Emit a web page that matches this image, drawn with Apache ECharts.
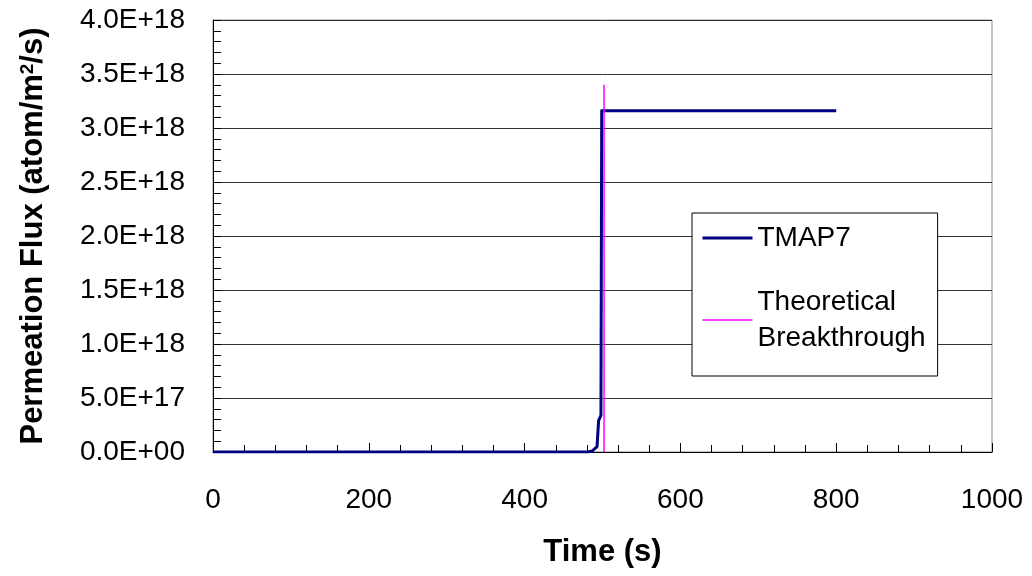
<!DOCTYPE html>
<html>
<head>
<meta charset="utf-8">
<title>Permeation Flux</title>
<script src="https://cdn.jsdelivr.net/npm/echarts@6/dist/echarts.min.js"></script>
<style>
  html, body { margin: 0; padding: 0; background: #ffffff; }
  #chart { width: 1032px; height: 576px; }
</style>
</head>
<body>
<div id="chart"></div>
<script>
// TMAP7 permeation flux history (time in s, flux in atom/m^2/s)
const timeS = [0, 481, 487, 493, 495, 498, 499, 800];
const fluxTMAP7 = [0, 0, 0.01e18, 0.05e18, 0.29e18, 0.34e18, 3.16e18, 3.16e18];

// Theoretical breakthrough marker
const breakthroughTime = [502, 502];
const breakthroughFlux = [0, 3.4e18];

// Axis tick labels
const xTickLabels = ['0', '200', '400', '600', '800', '1000'];
const yTickLabels = ['0.0E+00', '5.0E+17', '1.0E+18', '1.5E+18', '2.0E+18',
                     '2.5E+18', '3.0E+18', '3.5E+18', '4.0E+18'];

const seriesNames = ['TMAP7', 'Theoretical Breakthrough'];

const FONT = "'Liberation Sans', Arial, sans-serif";

const pairs = (xs, ys) => xs.map((x, i) => [x, ys[i]]);

const chart = echarts.init(document.getElementById('chart'), null, { renderer: 'canvas' });

chart.setOption({
  backgroundColor: '#ffffff',
  animation: false,
  textStyle: { fontFamily: FONT, color: '#000' },
  grid: {
    left: 213, right: 40, top: 20, bottom: 124,
    show: true, borderColor: '#8c8c8c', borderWidth: 1, backgroundColor: '#ffffff'
  },
  legend: {
    orient: 'vertical',
    left: 692, top: 213,
    padding: [8, 12, 2, 9],
    itemGap: 11,
    itemWidth: 50, itemHeight: 1,
    backgroundColor: '#ffffff',
    borderColor: '#000000', borderWidth: 1, borderRadius: 0,
    itemStyle: { borderWidth: 0 },
    textStyle: { fontFamily: FONT, fontSize: 28, color: '#000', lineHeight: 34 },
    formatter: name => name === seriesNames[1] ? 'Theoretical\nBreakthrough' : name,
    data: [
      { name: seriesNames[0], lineStyle: { width: 3 } },
      { name: seriesNames[1], lineStyle: { width: 1.5 },
        textStyle: { lineHeight: 36, padding: [36, 0, 0, 0] } }
    ]
  },
  xAxis: {
    type: 'value', min: 0, max: 1000, interval: 200,
    name: 'Time (s)', nameLocation: 'middle', nameGap: 85,
    nameTextStyle: { fontFamily: FONT, fontSize: 31, fontWeight: 'bold', color: '#000' },
    axisLine: { show: true, lineStyle: { color: '#000', width: 1 } },
    axisTick: { show: true, inside: true, length: 9, lineStyle: { color: '#000' } },
    minorTick: { show: true, splitNumber: 5, length: 7, lineStyle: { color: '#000' } },
    splitLine: { show: false },
    axisLabel: {
      fontFamily: FONT, fontSize: 28, color: '#000', margin: 34,
      formatter: (v) => xTickLabels[Math.round(v / 200)]
    }
  },
  yAxis: {
    type: 'value', min: 0, max: 4e18, interval: 5e17,
    name: 'Permeation Flux (atom/m{sup|2}/s)', nameLocation: 'middle', nameGap: 164,
    nameRotate: 90,
    nameTextStyle: {
      fontFamily: FONT, fontSize: 31, fontWeight: 'bold', color: '#000',
      rich: {
        sup: { fontFamily: FONT, fontSize: 19, fontWeight: 'bold', color: '#000', verticalAlign: 'top', lineHeight: 19 }
      }
    },
    axisLine: { show: true, lineStyle: { color: '#000', width: 1 } },
    axisTick: { show: true, inside: true, length: 8, lineStyle: { color: '#000' } },
    minorTick: { show: true, splitNumber: 5, length: 8, lineStyle: { color: '#000' } },
    splitLine: { show: true, lineStyle: { color: '#333', width: 1 } },
    axisLabel: {
      fontFamily: FONT, fontSize: 28, color: '#000', margin: 28,
      formatter: (v) => yTickLabels[Math.round(v / 5e17)]
    }
  },
  series: [
    {
      name: seriesNames[0],
      type: 'line',
      data: pairs(timeS, fluxTMAP7),
      symbol: 'none',
      lineStyle: { color: '#000080', width: 3, join: 'round' },
      itemStyle: { color: '#000080' },
      z: 3
    },
    {
      name: seriesNames[1],
      type: 'line',
      data: pairs(breakthroughTime, breakthroughFlux),
      symbol: 'none',
      lineStyle: { color: '#ff00ff', width: 1.5 },
      itemStyle: { color: '#ff00ff' },
      z: 4
    }
  ]
});
</script>
</body>
</html>
